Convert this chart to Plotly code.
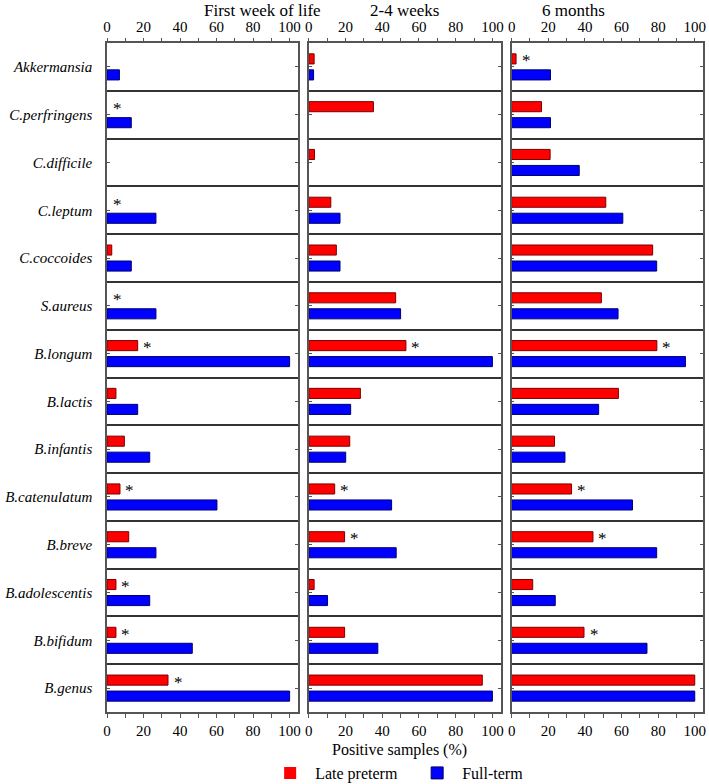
import plotly.graph_objects as go

categories = ["Akkermansia", "C.perfringens", "C.difficile", "C.leptum", "C.coccoides",
              "S.aureus", "B.longum", "B.lactis", "B.infantis", "B.catenulatum",
              "B.breve", "B.adolescentis", "B.bifidum", "B.genus"]
periods = ["First week of life", "2-4 weeks", "6 months"]
series_names = ["Late preterm", "Full-term"]

late_first = [0, 0, 0, 0, 2.6, 0, 16.8, 4.9, 9.5, 7.1, 11.9, 4.9, 4.9, 33.4]
full_first = [6.8, 13.3, 0, 26.8, 13.3, 26.8, 100, 16.8, 23.4, 60.2, 26.8, 23.4, 46.7, 100]
late_2_4 = [2.9, 35.2, 3.1, 12.0, 15.0, 47.3, 52.9, 28.1, 22.3, 14.1, 19.5, 2.9, 19.5, 94.5]
full_2_4 = [2.6, 0, 0, 17.0, 17.0, 50.0, 100, 22.8, 20.1, 45.1, 47.6, 10.2, 37.6, 100]
late_6m = [2.4, 16.3, 21.0, 51.4, 77.0, 49.0, 79.3, 58.3, 23.4, 32.7, 44.4, 11.5, 39.5, 100]
full_6m = [21.2, 21.2, 36.9, 60.7, 79.2, 58.1, 94.9, 47.5, 29.1, 66.0, 79.2, 23.8, 73.9, 100]

stars_first = ["C.perfringens", "C.leptum", "S.aureus", "B.longum", "B.catenulatum",
               "B.adolescentis", "B.bifidum", "B.genus"]
stars_2_4 = ["B.longum", "B.catenulatum", "B.breve"]
stars_6m = ["Akkermansia", "B.longum", "B.catenulatum", "B.breve", "B.bifidum"]

x_ticks = [0, 20, 40, 60, 80, 100]
x_minor = [10, 30, 50, 70, 90]

late_all = [late_first, late_2_4, late_6m]
full_all = [full_first, full_2_4, full_6m]
stars_all = [stars_first, stars_2_4, stars_6m]

FONT = "Liberation Serif, Times New Roman, Times, serif"
RED, RED_LINE = "#FF0000", "#7A0000"
BLUE, BLUE_LINE = "#0000FF", "#00006E"
FRAME = "#555555"
SEP = "#333333"

n = len(categories)
ypos = list(range(n))
boundaries = [i + 0.5 for i in range(n - 1)]

domains = [[0.0, 0.3202], [0.3386, 0.6605], [0.679, 1.0]]
xr = [0, 104.5]


def outline_widths(vals):
    return [1 if v > 0 else 0 for v in vals]


fig = go.Figure()

for k in range(3):
    xa = "x" if k == 0 else f"x{k+1}"
    ya = "y" if k == 0 else f"y{k+1}"
    fig.add_trace(go.Bar(
        y=ypos, x=late_all[k], orientation="h", name=series_names[0],
        marker=dict(color=RED, line=dict(color=RED_LINE, width=outline_widths(late_all[k]))),
        xaxis=xa, yaxis=ya, showlegend=(k == 0), legendgroup="late",
        offsetgroup="late"))
    fig.add_trace(go.Bar(
        y=ypos, x=full_all[k], orientation="h", name=series_names[1],
        marker=dict(color=BLUE, line=dict(color=BLUE_LINE, width=outline_widths(full_all[k]))),
        xaxis=xa, yaxis=ya, showlegend=(k == 0), legendgroup="full",
        offsetgroup="full"))
    fig.add_trace(go.Scatter(
        x=[0], y=[0], mode="markers", marker=dict(opacity=0),
        xaxis=f"x{k+4}", yaxis=ya, showlegend=False, hoverinfo="skip"))

layout = dict(
    width=709, height=784,
    margin=dict(l=107, r=5.5, t=43, b=72, autoexpand=False),
    paper_bgcolor="white", plot_bgcolor="white",
    font=dict(family=FONT, size=15, color="black"),
    barmode="group", bargap=0.33, bargroupgap=0.37,
    showlegend=True,
    legend=dict(orientation="h", x=0.512, xanchor="center", y=-0.0912, yanchor="middle",
                font=dict(family=FONT, size=16), traceorder="normal",
                itemwidth=40, entrywidth=92, bgcolor="rgba(0,0,0,0)"),
)

for k in range(3):
    suffix = "" if k == 0 else str(k + 1)
    layout[f"xaxis{suffix}"] = dict(
        domain=domains[k], anchor="y" + suffix, range=xr, automargin=False,
        tickvals=x_ticks, ticks="outside", ticklen=4, tickcolor=FRAME, tickwidth=1,
        minor=dict(tickvals=x_minor, ticks="outside", ticklen=4, tickcolor=FRAME, tickwidth=1),
        showline=True, linecolor=FRAME, linewidth=1.5, mirror=True,
        showgrid=False, zeroline=False,
        tickfont=dict(family=FONT, size=15),
    )
    layout[f"xaxis{k+4}"] = dict(
        overlaying="x" + suffix, side="top", anchor="y" + suffix, range=xr, automargin=False,
        tickvals=x_ticks, ticks="outside", ticklen=4, tickcolor=FRAME, tickwidth=1,
        minor=dict(tickvals=x_minor, ticks="outside", ticklen=4, tickcolor=FRAME, tickwidth=1),
        showline=False, showgrid=False, zeroline=False,
        tickfont=dict(family=FONT, size=15),
    )
    layout[f"yaxis{suffix}"] = dict(
        domain=[0, 1], anchor="x" + suffix, range=[n - 0.5, -0.5], automargin=False,
        tickvals=ypos, ticktext=categories, showticklabels=(k == 0),
        ticks="inside", ticklen=3, tickcolor=FRAME,
        showline=True, linecolor=FRAME, linewidth=1.5, mirror="ticks",
        showgrid=False, zeroline=False,
        minor=dict(tickvals=boundaries, showgrid=True, gridcolor=SEP, gridwidth=1.5, ticks=""),
        tickfont=dict(family=FONT, size=15, style="italic"),
        ticklabelstandoff=10,
    )

fig.update_layout(**layout)

annotations = []
for k in range(3):
    xa = "x" if k == 0 else f"x{k+1}"
    ya = "y" if k == 0 else f"y{k+1}"
    annotations.append(dict(
        text=periods[k], xref="paper", yref="paper",
        x=(domains[k][0] + domains[k][1]) / 2, y=1, yanchor="middle", yshift=33,
        showarrow=False, font=dict(family=FONT, size=17)))
    for cat in stars_all[k]:
        i = categories.index(cat)
        annotations.append(dict(
            text="*", xref=xa, yref=ya, x=late_all[k][i], y=i,
            xanchor="center", yanchor="middle", xshift=10, yshift=6,
            showarrow=False, font=dict(family=FONT, size=17, color="black")))

annotations.append(dict(
    text="Positive samples (%)", xref="paper", yref="paper", x=0.491, y=0,
    yanchor="middle", yshift=-38, showarrow=False, font=dict(family=FONT, size=16)))

fig.update_layout(annotations=annotations)

fig.write_html("out.html", config={"displayModeBar": False},
               post_script="document.body.style.margin='0px';document.body.style.overflow='hidden';")
